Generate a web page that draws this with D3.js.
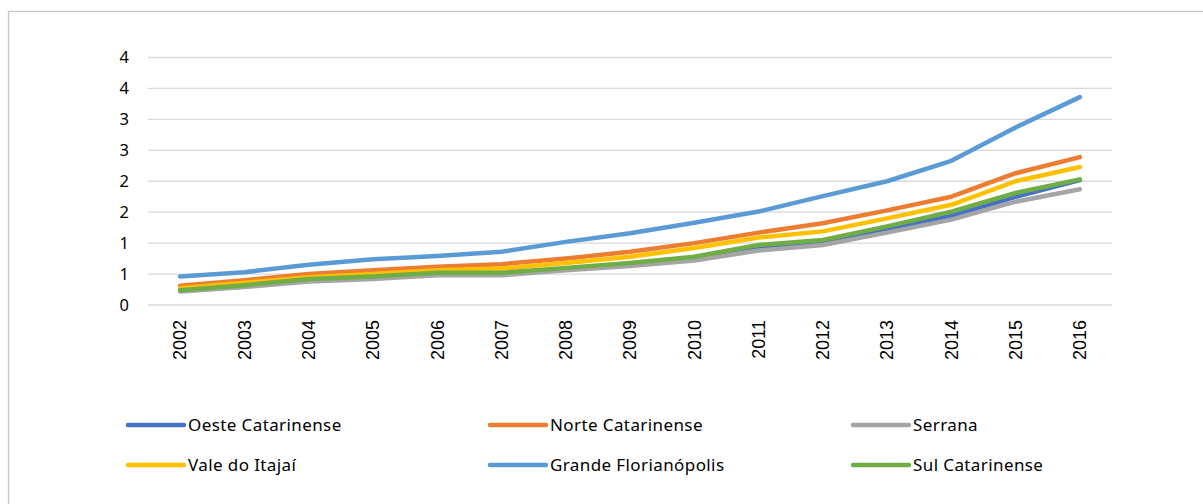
<!DOCTYPE html>
<html>
<head>
<meta charset="utf-8">
<script src="https://cdn.jsdelivr.net/npm/d3@7"></script>
<style>
  body { margin: 0; background: #fff; }
  svg { display: block; }
</style>
</head>
<body>
<div id="chart"></div>
<script>
const width = 1203;
const height = 504;

const years = ["2002", "2003", "2004", "2005", "2006", "2007", "2008", "2009",
               "2010", "2011", "2012", "2013", "2014", "2015", "2016"];
const yTicks = [0, 0.5, 1, 1.5, 2, 2.5, 3, 3.5, 4];

const oeste = [0.23, 0.30, 0.40, 0.44, 0.50, 0.50, 0.58, 0.65, 0.75, 0.92, 1.01, 1.22, 1.44, 1.75, 2.02];
const norte = [0.31, 0.40, 0.50, 0.56, 0.62, 0.66, 0.75, 0.86, 1.00, 1.17, 1.32, 1.53, 1.75, 2.13, 2.39];
const serrana = [0.22, 0.29, 0.38, 0.42, 0.48, 0.48, 0.56, 0.63, 0.72, 0.88, 0.97, 1.17, 1.38, 1.67, 1.87];
const vale = [0.27, 0.36, 0.45, 0.50, 0.56, 0.59, 0.68, 0.78, 0.92, 1.09, 1.19, 1.40, 1.62, 2.00, 2.23];
const grande = [0.46, 0.53, 0.65, 0.74, 0.79, 0.86, 1.02, 1.16, 1.33, 1.51, 1.76, 2.00, 2.33, 2.87, 3.36];
const sul = [0.24, 0.32, 0.42, 0.46, 0.52, 0.52, 0.60, 0.68, 0.78, 0.97, 1.05, 1.27, 1.51, 1.81, 2.03];

const series = [
    { name: "Oeste Catarinense", values: oeste, color: "#4472C4" },
    { name: "Norte Catarinense", values: norte, color: "#ED7D31" },
    { name: "Serrana", values: serrana, color: "#A5A5A5" },
    { name: "Vale do Itajaí", values: vale, color: "#FFC000" },
    { name: "Grande Florianópolis", values: grande, color: "#5B9BD5" },
    { name: "Sul Catarinense", values: sul, color: "#70AD47" }
];

const plot = { left: 148, right: 1112, top: 57.5, bottom: 305 };

const svg = d3.select("#chart")
  .append("svg")
    .attr("width", width)
    .attr("height", height);

// chart frame
svg.append("rect")
    .attr("x", 8.5).attr("y", 11.5)
    .attr("width", 1300).attr("height", 600)
    .attr("fill", "#fff")
    .attr("stroke", "#c8c8c8")
    .attr("stroke-width", 1.3);

const x = d3.scaleBand()
    .domain(years)
    .range([plot.left, plot.right]);

const y = d3.scaleLinear()
    .domain([0, 4])
    .range([plot.bottom, plot.top]);

// gridlines
svg.append("g")
  .selectAll("line")
  .data(yTicks)
  .join("line")
    .attr("x1", plot.left)
    .attr("x2", plot.right)
    .attr("y1", d => y(d))
    .attr("y2", d => y(d))
    .attr("stroke", "#d9d9d9")
    .attr("stroke-width", 1.3);

// y axis labels (rounded like the original)
const yAxis = d3.axisLeft(y)
    .tickValues(yTicks)
    .tickSize(0)
    .tickPadding(12)
    .tickFormat(d => Math.round(d));

svg.append("g")
    .attr("transform", `translate(${plot.left - 7},0)`)
    .call(yAxis)
    .call(g => g.select(".domain").remove())
    .call(g => g.selectAll("text")
        .attr("font-family", "'Noto Sans', 'Open Sans', sans-serif")
        .attr("font-size", 16.5)
        .attr("fill", "#000"));

// x axis labels, rotated
const xAxis = d3.axisBottom(x).tickSize(0).tickPadding(0);

svg.append("g")
    .attr("transform", `translate(0,${plot.bottom})`)
    .call(xAxis)
    .call(g => g.select(".domain").remove())
    .call(g => g.selectAll("text")
        .attr("font-family", "'Liberation Sans', Arial, sans-serif")
        .attr("font-size", 18)
        .attr("fill", "#000")
        .attr("text-anchor", "end")
        .attr("dy", "0.35em")
        .attr("transform", "translate(0,15) rotate(-90)"));

// lines
const line = d3.line()
    .x((d, i) => x(years[i]) + x.bandwidth() / 2)
    .y(d => y(d));

svg.append("g")
  .selectAll("path")
  .data(series)
  .join("path")
    .attr("d", d => line(d.values))
    .attr("fill", "none")
    .attr("stroke", d => d.color)
    .attr("stroke-width", 4.5)
    .attr("stroke-linecap", "round")
    .attr("stroke-linejoin", "round");

// legend
const legendCols = [128, 490, 853];
const legendRows = [425, 465];

const legend = svg.append("g")
  .selectAll("g")
  .data(series)
  .join("g")
    .attr("transform", (d, i) => `translate(${legendCols[i % 3]},${legendRows[Math.floor(i / 3)]})`);

legend.append("line")
    .attr("x1", 0).attr("x2", 56)
    .attr("y1", 0).attr("y2", 0)
    .attr("stroke", d => d.color)
    .attr("stroke-width", 4.5)
    .attr("stroke-linecap", "round");

legend.append("text")
    .attr("x", 60)
    .attr("y", 0)
    .attr("dy", "0.35em")
    .attr("font-family", "'Noto Sans', 'Open Sans', sans-serif")
    .attr("font-size", 17)
    .attr("letter-spacing", 0.4)
    .attr("fill", "#000")
    .text(d => d.name);
</script>
</body>
</html>
